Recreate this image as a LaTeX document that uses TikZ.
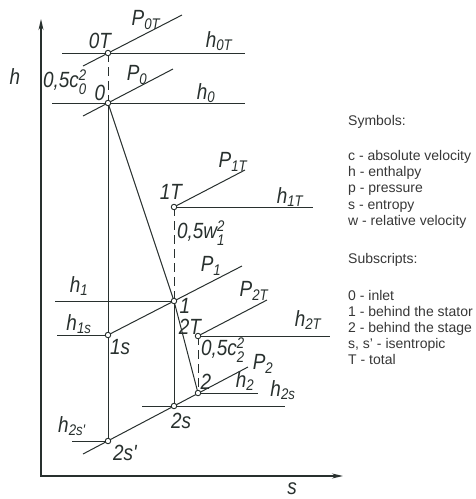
\documentclass[tikz,border=0pt]{standalone}
\usepackage{amsmath}
\usepackage{fontspec}
\setmainfont{Liberation Sans}
\newfontfamily\isofont{Liberation Sans}[FakeStretch=0.86]
\usetikzlibrary{positioning,arrows.meta,backgrounds}
\definecolor{inkline}{RGB}{40,48,46}
\definecolor{legendtext}{RGB}{55,55,55}
\newcommand{\ssub}[1]{$_{\text{#1}}$}
\newcommand{\supsub}[2]{$^{\text{#1}}_{\text{#2}}$}

\tikzset{
  axis/.style={line width=1.5pt,draw=inkline,{Stealth[length=11pt,width=5pt]}-{Stealth[length=11pt,width=5pt]}},
  ln/.style={line width=1pt,draw=inkline},
  dln/.style={ln,dash pattern=on 9pt off 5pt},
  pnt/.style={circle,draw=inkline,fill=white,inner sep=0pt,minimum size=5.5pt,line width=0.9pt},
  lbl/.style={font=\fontsize{22}{22}\selectfont\isofont\itshape,text=inkline,inner sep=0pt},
  legend/.style={font=\fontsize{14}{16}\selectfont,text=legendtext,inner sep=0pt,anchor=base west}
}

\begin{document}
\begin{tikzpicture}[x=1pt,y=-1pt]
\useasboundingbox (0,0) rectangle (475,499);

\coordinate (orig) at (41,476);
\coordinate (hend) at (41,19);
\coordinate (send) at (343,476);

\node[pnt] (p0T) at (108,53) {};
\node[pnt] (p0) at (108,103) {};
\node[pnt] (p1T) at (174,207) {};
\node[pnt] (p1) at (174,301) {};
\node[pnt] (p1s) at (108,335) {};
\node[pnt] (p2T) at (198,336) {};
\node[pnt] (p2) at (198,393) {};
\node[pnt] (p2s) at (174,406) {};
\node[pnt] (p2ss) at (108,441) {};

\coordinate (h0Tl) at (62,53);
\coordinate (h0Tr) at (245,53);
\coordinate (pp0Tl) at (83,66);
\coordinate (pp0Tr) at (182,15);
\coordinate (h0l) at (52,103);
\coordinate (h0r) at (245,103);
\coordinate (pp0l) at (83,116);
\coordinate (pp0r) at (173,69);
\coordinate (h1Tr) at (313,207);
\coordinate (pp1Tr) at (245,170);
\coordinate (pp1r) at (242,266);
\coordinate (h1l) at (55,301);
\coordinate (h1sl) at (57,335);
\coordinate (h2Tr) at (330,336);
\coordinate (pp2Tr) at (267,300);
\coordinate (h2r) at (258,393);
\coordinate (pp2l) at (83,454);
\coordinate (pp2r) at (248,367);
\coordinate (h2sl) at (142,406);
\coordinate (h2sr) at (285,406);
\coordinate (h2ssl) at (72,441);

\begin{scope}[on background layer]
\draw[axis] (hend) -- (orig) -- (send);
\draw[ln] (h0Tl) -- (h0Tr);
\draw[ln] (pp0Tl) -- (pp0Tr);
\draw[ln] (h0l) -- (h0r);
\draw[ln] (pp0l) -- (pp0r);
\draw[dln] (p0T.center) -- (p0.center);
\draw[ln] (p0.center) -- (p2ss.center);
\draw[ln] (p0.center) -- (p1.center);
\draw[ln] (p1T.center) -- (h1Tr);
\draw[ln] (p1T.center) -- (pp1Tr);
\draw[dln] (p1T.center) -- (p1.center);
\draw[ln] (h1l) -- (p1.center);
\draw[ln] (h1sl) -- (p1s.center);
\draw[ln] (p1s.center) -- (pp1r);
\draw[ln] (p1.center) -- (p2s.center);
\draw[ln] (p1.center) -- (p2.center);
\draw[ln] (p2T.center) -- (h2Tr);
\draw[ln] (p2T.center) -- (pp2Tr);
\draw[dln] (p2T.center) -- (p2.center);
\draw[ln] (p2.center) -- (h2r);
\draw[ln] (pp2l) -- (pp2r);
\draw[ln] (h2sl) -- (h2sr);
\draw[ln] (h2ssl) -- (p2ss.center);
\end{scope}

\node[lbl] (lh) at (15,77) {h};
\node[lbl] (ls) at (292,489) {s};
\node[lbl] (l0T) at (100,41) {0T};
\node[lbl] (lp0T) at (146,20) {P\ssub{0T}};
\node[lbl] (lh0T) at (219,41) {h\ssub{0T}};
\node[lbl,anchor=west] (lc0) at (43,82) {0,5c\supsub{2}{0}};
\node[lbl] (l0) at (100,93) {0};
\node[lbl] (lp0) at (137,75) {P\ssub{0}};
\node[lbl] (lh0) at (206,93) {h\ssub{0}};
\node[lbl] (lp1T) at (233,162) {P\ssub{1T}};
\node[lbl] (l1T) at (171,192) {1T};
\node[lbl] (lh1T) at (290,197) {h\ssub{1T}};
\node[lbl,anchor=west] (lw1) at (177,233) {0,5w\supsub{2}{1}};
\node[lbl] (lp1) at (211,266) {P\ssub{1}};
\node[lbl] (l1) at (185,306) {1};
\node[lbl] (lh1) at (79,286) {h\ssub{1}};
\node[lbl] (lh1s) at (79,324) {h\ssub{1s}};
\node[lbl] (l1s) at (120,347) {1s};
\node[lbl] (lp2T) at (254,291) {P\ssub{2T}};
\node[lbl] (l2T) at (190,327) {2T};
\node[lbl] (lh2T) at (308,320) {h\ssub{2T}};
\node[lbl,anchor=west] (lc2) at (201,350) {0,5c\supsub{2}{2}};
\node[lbl] (l2) at (206,382) {2};
\node[lbl] (lp2) at (263,364) {P\ssub{2}};
\node[lbl] (lh2) at (245,381) {h\ssub{2}};
\node[lbl] (lh2s) at (283,390) {h\ssub{2s}};
\node[lbl] (l2s) at (181,421) {2s};
\node[lbl] (lh2ss) at (72,426) {h\ssub{2s'}};
\node[lbl] (l2ss) at (125,453) {2s'};

\foreach \ltext/\ly [count=\li] in {Symbols:/125, c - absolute velocity/160,
  h - enthalpy/176, p - pressure/192, s - entropy/209, w - relative velocity/225,
  Subscripts:/263, 0 - inlet/300, 1 - behind the stator/316,
  2 - behind the stage/332, {s, s' - isentropic}/348, T - total/364}
  \node[legend] (leg\li) at (348,\ly) {\ltext};
\end{tikzpicture}
\end{document}
